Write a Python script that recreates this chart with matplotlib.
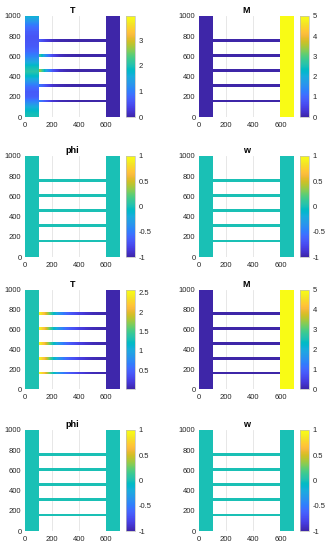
import numpy as np
import matplotlib
matplotlib.use("Agg")
import matplotlib.pyplot as plt
from matplotlib.colors import LinearSegmentedColormap, Normalize
from matplotlib.cm import ScalarMappable
from matplotlib.patches import Rectangle

plt.rcParams['font.family'] = ['Liberation Sans', 'DejaVu Sans']

# parula-like colormap anchors (every other entry of the 64-step table)
parula_pts = [
    [0.2422, 0.1504, 0.6603], [0.2578, 0.1818, 0.7511], [0.2706, 0.2147, 0.8364],
    [0.2783, 0.2559, 0.8991], [0.2813, 0.3006, 0.9414], [0.2795, 0.3447, 0.9717],
    [0.2699, 0.3892, 0.9906], [0.2440, 0.4358, 0.9988], [0.1963, 0.4847, 0.9892],
    [0.1786, 0.5289, 0.9682], [0.1687, 0.5703, 0.9359], [0.1460, 0.6091, 0.9079],
    [0.1248, 0.6459, 0.8883], [0.0952, 0.6798, 0.8598], [0.0297, 0.7082, 0.8163],
    [0.0067, 0.7312, 0.7660], [0.0964, 0.7500, 0.7120], [0.1717, 0.7670, 0.6554],
    [0.2161, 0.7843, 0.5923], [0.2906, 0.7973, 0.5188], [0.3909, 0.8029, 0.4354],
    [0.5044, 0.7993, 0.3480], [0.6174, 0.7876, 0.2612], [0.7242, 0.7698, 0.1910],
    [0.8203, 0.7498, 0.1535], [0.9035, 0.7330, 0.1774], [0.9728, 0.7298, 0.2394],
    [0.9970, 0.7659, 0.2199], [0.9892, 0.8136, 0.1885], [0.9676, 0.8639, 0.1643],
    [0.9597, 0.9135, 0.1423], [0.9691, 0.9606, 0.1064], [0.9769, 0.9839, 0.0805]]
parula = LinearSegmentedColormap.from_list("parula", parula_pts, N=256)

# geometry of the domain
x_range = [0, 700]
y_range = [0, 1000]
slab_w = 100
bar_y = [160, 310, 460, 610, 760]
bar_half = 13

# left slab T profiles at y = 0, 50, ..., 1000
slab_y = [0, 50, 100, 150, 200, 250, 300, 350, 400, 450, 500,
          550, 600, 650, 700, 750, 800, 850, 900, 950, 1000]
T1_left = [2.0, 1.9, 1.6, 1.1, 0.7, 0.65, 0.85, 1.3, 1.8, 2.1, 1.9,
           1.5, 1.1, 0.8, 0.65, 0.6, 0.6, 0.7, 0.9, 1.3, 1.7]
T2_left = [1.32] * len(slab_y)

# bar T profiles at x = 100, 150, ..., 600
bar_x = [100, 150, 200, 250, 300, 350, 400, 450, 500, 550, 600]
T1_bars = [
    [1.1, 0.6, 0.25, 0.1, 0.05, 0.02, 0, 0, 0, 0, 0],
    [1.0, 0.55, 0.2, 0.08, 0.03, 0.01, 0, 0, 0, 0, 0],
    [2.9, 1.6, 0.6, 0.2, 0.07, 0.02, 0, 0, 0, 0, 0],
    [2.3, 1.2, 0.45, 0.15, 0.05, 0.02, 0, 0, 0, 0, 0],
    [0.7, 0.35, 0.15, 0.05, 0.02, 0, 0, 0, 0, 0, 0],
]
T2_bar = [2.55, 2.0, 1.3, 0.85, 0.55, 0.38, 0.25, 0.15, 0.08, 0.05, 0.03]

# panel definitions
titles = ["T", "M", "phi", "w", "T", "M", "phi", "w"]
right_vals = [0.0, 5.0, 0.0, 0.0, 0.03, 5.0, 0.0, 0.0]
const_vals = [None, 0.0, 0.0, 0.0, None, 0.0, 0.0, 0.0]
vlims = [(0, 3.95), (0, 5), (-1, 1), (-1, 1), (0.02, 2.57), (0, 5), (-1, 1), (-1, 1)]
cticks = [[0, 1, 2, 3], [0, 1, 2, 3, 4, 5], [-1, -0.5, 0, 0.5, 1], [-1, -0.5, 0, 0.5, 1],
          [0.5, 1, 1.5, 2, 2.5], [0, 1, 2, 3, 4, 5], [-1, -0.5, 0, 0.5, 1], [-1, -0.5, 0, 0.5, 1]]

W, H = 332, 550
fig = plt.figure(figsize=(W / 100, H / 100), dpi=100)

rows_px = [(16, 117), (156, 257), (290, 389), (430, 531)]
cols_px = [(25, 119.5, 126, 135), (199, 294, 300, 309)]

fs = 5.5
tc = '#262626'


def const_rect(ax, x0, x1, y0, y1, v, norm):
    ax.add_patch(Rectangle((x0, y0), x1 - x0, y1 - y0, facecolor=parula(norm(v)),
                           edgecolor='none', linewidth=0, zorder=2))


def grad_rect(ax, arr, extent, clip, norm):
    im = ax.imshow(arr, extent=extent, origin='lower', aspect='auto', cmap=parula,
                   norm=norm, interpolation='bilinear', interpolation_stage='data',
                   zorder=2)
    x0, x1, y0, y1 = clip
    im.set_clip_path(Rectangle((x0, y0), x1 - x0, y1 - y0, transform=ax.transData))


for i in range(8):
    r, c = divmod(i, 2)
    top, bot = rows_px[r]
    l, rr, cl, cr = cols_px[c]
    ax = fig.add_axes([l / W, 1 - bot / H, (rr - l) / W, (bot - top) / H])
    cax = fig.add_axes([cl / W, 1 - bot / H, (cr - cl) / W, (bot - top) / H])
    vmin, vmax = vlims[i]
    norm = Normalize(vmin, vmax)
    xr0, xr1 = x_range[1] - slab_w, x_range[1]

    if const_vals[i] is None:
        lv = np.array(T1_left if i == 0 else T2_left, float)
        dy = slab_y[1] - slab_y[0]
        grad_rect(ax, lv[:, None], [0, slab_w, slab_y[0] - dy / 2, slab_y[-1] + dy / 2],
                  (0, slab_w, 0, 1000), norm)
        dx = bar_x[1] - bar_x[0]
        for k, yc in enumerate(bar_y):
            v = np.array(T1_bars[k] if i == 0 else T2_bar, float)
            grad_rect(ax, v[None, :],
                      [bar_x[0] - dx / 2, bar_x[-1] + dx / 2, yc - bar_half, yc + bar_half],
                      (bar_x[0], bar_x[-1], yc - bar_half, yc + bar_half), norm)
    else:
        const_rect(ax, 0, slab_w, 0, 1000, const_vals[i], norm)
        for yc in bar_y:
            const_rect(ax, slab_w, xr0, yc - bar_half, yc + bar_half, const_vals[i], norm)
    const_rect(ax, xr0, xr1, 0, 1000, right_vals[i], norm)

    ax.set_xlim(x_range)
    ax.set_ylim(y_range)
    ax.set_xticks([0, 200, 400, 600])
    ax.set_yticks([0, 200, 400, 600, 800, 1000])
    ax.tick_params(length=0, labelsize=fs, colors=tc, pad=2.5)
    ax.tick_params(axis='x', pad=3.5)
    for s in ax.spines.values():
        s.set_visible(False)
    ax.grid(axis='x', color='#e3e3e3', linewidth=0.6, zorder=0)
    ax.set_axisbelow(True)
    ax.set_title(titles[i], fontsize=6.5, fontweight='bold', pad=2, color='black')

    cb = fig.colorbar(ScalarMappable(norm=norm, cmap=parula), cax=cax)
    cb.set_ticks(cticks[i])
    cb.ax.set_yticklabels([f"{t:g}" for t in cticks[i]])
    cb.ax.tick_params(length=0, labelsize=fs, colors=tc, pad=2.5)
    cb.outline.set_edgecolor('#bdbdbd')
    cb.outline.set_linewidth(0.5)

fig.savefig("out.png", dpi=100)
